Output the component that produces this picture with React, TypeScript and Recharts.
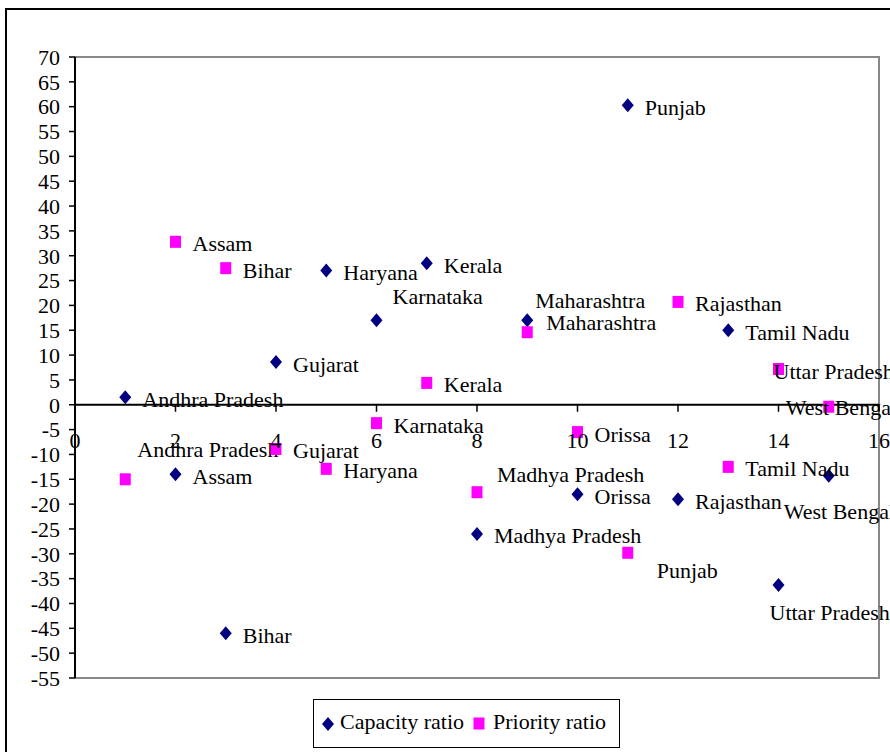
import React from "react";
import { ScatterChart, Scatter, XAxis, YAxis, ReferenceLine, ReferenceArea } from "recharts";

// States in x order (1..15)
const states = [
  "Andhra Pradesh", "Assam", "Bihar", "Gujarat", "Haryana", "Karnataka", "Kerala",
  "Madhya Pradesh", "Maharashtra", "Orissa", "Punjab", "Rajasthan", "Tamil Nadu",
  "Uttar Pradesh", "West Bengal",
];
const stateIndex = [1, 2, 3, 4, 5, 6, 7, 8, 9, 10, 11, 12, 13, 14, 15];
const capacityRatio = [1.5, -14, -46, 8.6, 27, 17, 28.5, -26, 17, -18, 60.3, -19, 15, -36.3, -14.3];
const priorityRatio = [-15, 32.8, 27.5, -8.9, -12.9, -3.7, 4.4, -17.6, 14.6, -5.5, -29.8, 20.7, -12.5, 7.2, -0.4];

const xTicks = [0, 2, 4, 6, 8, 10, 12, 14, 16];
const yTicks = [-55, -50, -45, -40, -35, -30, -25, -20, -15, -10, -5, 0, 5, 10, 15, 20, 25, 30, 35, 40, 45, 50, 55, 60, 65, 70];

const FONT = "Liberation Serif, Tinos, DejaVu Serif, serif";
const NAVY = "#000080";
const MAGENTA = "#ff00ff";

// plot geometry
const W = 890;
const H = 752;
const PLOT_TOP = 57;
const PLOT_BOTTOM = 678;
const Y_MIN = -55;
const Y_MAX = 70;
const ZERO_Y = PLOT_TOP + ((PLOT_BOTTOM - PLOT_TOP) * Y_MAX) / (Y_MAX - Y_MIN);

// data label placement (dx, dy from the marker), like the hand-moved Excel labels
const DEFAULT_OFFSET: [number, number] = [17, 2];
const capacityLabelOffset: Record<string, [number, number]> = {
  Karnataka: [16, -24],
  Maharashtra: [8, -20],
  "Uttar Pradesh": [-9, 27],
  "West Bengal": [-45, 36],
};
const priorityLabelOffset: Record<string, [number, number]> = {
  "Andhra Pradesh": [12, -30],
  "Madhya Pradesh": [20, -18],
  Maharashtra: [19, -10],
  Punjab: [29, 18],
  "Uttar Pradesh": [-5, 3],
  "West Bengal": [-43, 1],
};

const capacityData = states.map((name, i) => ({ name, x: stateIndex[i], y: capacityRatio[i] }));
const priorityData = states.map((name, i) => ({ name, x: stateIndex[i], y: priorityRatio[i] }));

function PointLabel({ x, y, text }: { x: number; y: number; text: string }) {
  return (
    <text x={x} y={y} dominantBaseline="central" fontSize={22} style={{ fontFamily: FONT }} fill="#000">
      {text}
    </text>
  );
}

const DiamondShape = (props: any) => {
  const { cx, cy, payload } = props;
  const [dx, dy] = capacityLabelOffset[payload.name] || DEFAULT_OFFSET;
  return (
    <g>
      <path d={`M${cx},${cy - 7} L${cx + 6},${cy} L${cx},${cy + 7} L${cx - 6},${cy} Z`} fill={NAVY} />
      <PointLabel x={cx + dx} y={cy + dy} text={payload.name} />
    </g>
  );
};

const SquareShape = (props: any) => {
  const { cx, cy, payload } = props;
  const [dx, dy] = priorityLabelOffset[payload.name] || DEFAULT_OFFSET;
  return (
    <g>
      <rect x={cx - 5.5} y={cy - 6} width={11} height={12} fill={MAGENTA} />
      <PointLabel x={cx + dx} y={cy + dy} text={payload.name} />
    </g>
  );
};

// x ticks sit on the zero line, not at the bottom of the plot
const XTick = (props: any) => {
  const { x, payload } = props;
  return (
    <g>
      <line x1={x} x2={x} y1={ZERO_Y} y2={ZERO_Y + 7} stroke="#000" strokeWidth={1.5} />
      <text x={x} y={ZERO_Y + 36} dominantBaseline="central" textAnchor="middle" fontSize={22} style={{ fontFamily: FONT }} fill="#000">
        {payload.value}
      </text>
    </g>
  );
};

export default function App() {
  return (
    <div style={{ position: "absolute", left: 0, top: 0, width: W, height: H, overflow: "hidden", background: "#fff", fontFamily: FONT }}>
      <div
        style={{
          position: "absolute",
          left: 5,
          top: 8,
          width: 1000,
          height: 1000,
          border: "2px solid #000",
        }}
      />
      <div style={{ position: "absolute", left: 0, top: 0 }}>
        <ScatterChart
          width={W}
          height={H}
          margin={{ top: PLOT_TOP, right: 11, bottom: 44, left: 15 }}
          style={{ fontFamily: FONT }}
        >
          <ReferenceArea
            x1={0}
            x2={16}
            y1={Y_MIN}
            y2={Y_MAX}
            fill="none"
            stroke="#888"
            strokeWidth={2}
            ifOverflow="extendDomain"
          />
          <XAxis
            type="number"
            dataKey="x"
            domain={[0, 16]}
            ticks={xTicks}
            axisLine={false}
            tickLine={false}
            tick={<XTick />}
            height={30}
            interval={0}
          />
          <YAxis
            type="number"
            dataKey="y"
            domain={[Y_MIN, Y_MAX]}
            ticks={yTicks}
            interval={0}
            width={60}
            axisLine={{ stroke: "#000", strokeWidth: 2 }}
            tickLine={{ stroke: "#000", strokeWidth: 1.5 }}
            tickSize={6}
            tickMargin={9}
            tick={{ fill: "#000", fontSize: 22, style: { fontFamily: FONT } }}
          />
          <ReferenceLine y={0} stroke="#000" strokeWidth={2} />
          <Scatter
            name="Capacity ratio"
            data={capacityData}
            shape={DiamondShape}
            isAnimationActive={false}
          />
          <Scatter
            name="Priority ratio"
            data={priorityData}
            shape={SquareShape}
            isAnimationActive={false}
          />
        </ScatterChart>
      </div>
      <div
        style={{
          position: "absolute",
          left: 313,
          top: 699,
          width: 307,
          height: 49,
          boxSizing: "border-box",
          border: "1.5px solid #000",
          background: "#fff",
          fontFamily: FONT,
          fontSize: 22,
          color: "#000",
        }}
      >
        <svg style={{ position: "absolute", left: 7, top: 16 }} width={14} height={16}>
          <path d="M7,1 L13,8 L7,15 L1,8 Z" fill={NAVY} />
        </svg>
        <span style={{ position: "absolute", left: 26, top: 8, lineHeight: "28px", whiteSpace: "nowrap" }}>Capacity ratio</span>
        <svg style={{ position: "absolute", left: 159, top: 17 }} width={12} height={13}>
          <rect x={0.5} y={0.5} width={11} height={12} fill={MAGENTA} />
        </svg>
        <span style={{ position: "absolute", left: 179, top: 8, lineHeight: "28px", whiteSpace: "nowrap" }}>Priority ratio</span>
      </div>
    </div>
  );
}
